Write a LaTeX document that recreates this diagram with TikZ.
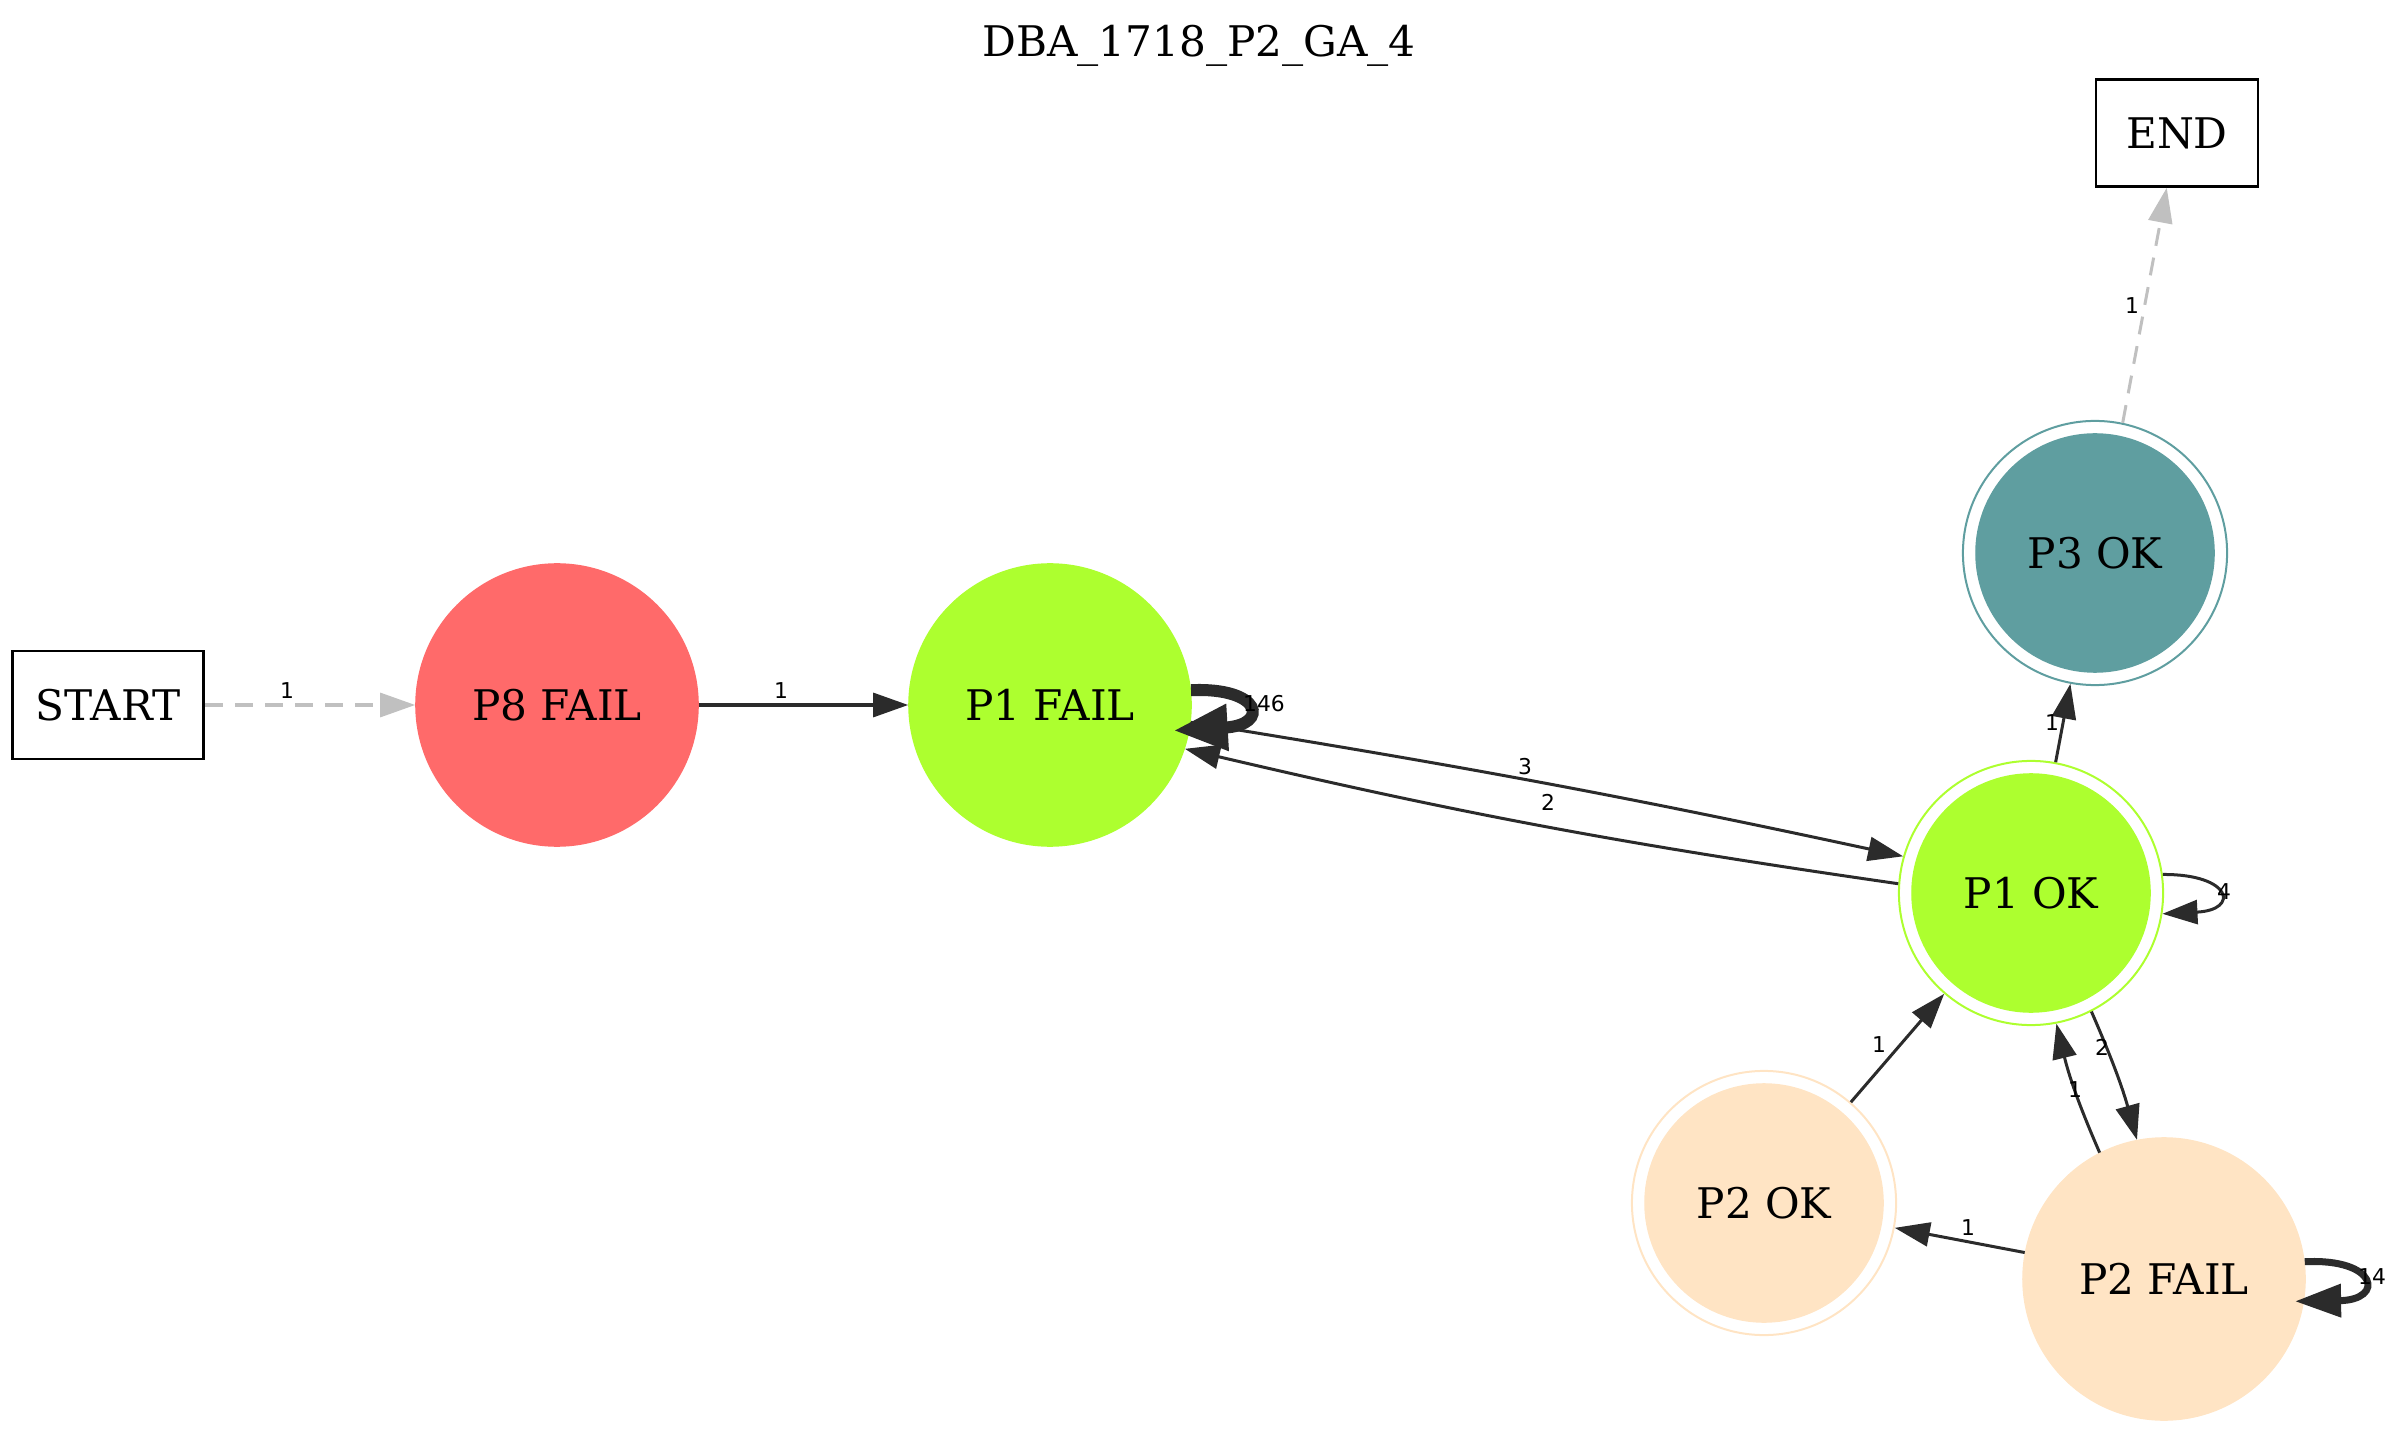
\documentclass[tikz,border=0pt]{standalone}
\usepackage{fontspec}
\setmainfont{DejaVu Serif}
\newfontfamily\lblfont{DejaVu Sans}
\usetikzlibrary{arrows.meta}
\definecolor{edgec}{HTML}{2B2B2B}
\definecolor{dashc}{HTML}{C0C0C0}
\definecolor{cRed}{HTML}{FF6A6A}
\definecolor{cGreen}{HTML}{ADFF2F}
\definecolor{cTeal}{HTML}{5F9EA0}
\definecolor{cBisque}{HTML}{FFE4C4}
\tikzset{
  nodetext/.style={font=\fontsize{12}{14}\selectfont},
  state/.style={circle, nodetext, inner sep=0pt, minimum size=2.82cm, fill=#1, draw=#1},
  outerring/.style={circle, inner sep=0pt, minimum size=2.64cm, draw=#1, line width=0.02cm},
  innerdisc/.style={circle, nodetext, inner sep=0pt, minimum size=2.38cm, fill=#1, draw=#1},
  termbox/.style={rectangle, nodetext, draw=black, line width=0.025cm, inner sep=0pt},
  lbl/.style={font=\lblfont\fontsize{6.2}{7}\selectfont, inner sep=0pt},
  edge/.style={draw=edgec, line width=0.03cm, -{Triangle[length=0.35cm,width=0.24cm]}},
  dashedge/.style={draw=dashc, line width=0.03cm, dash pattern=on 0.18cm off 0.12cm,
    -{Triangle[length=0.35cm,width=0.24cm]}},
  loopbig/.style={draw=edgec, line width=0.12cm, -{Triangle[length=0.54cm,width=0.44cm]}},
  loopmid/.style={draw=edgec, line width=0.07cm, -{Triangle[length=0.46cm,width=0.32cm]}},
}
\begin{document}
\begin{tikzpicture}[x=0.01cm, y=-0.01cm]
\useasboundingbox (0,0) rectangle (2400,1431);

% title
\node[nodetext, anchor=base, inner sep=0pt] (title) at (1199,57) {DBA\_1718\_P2\_GA\_4};

% terminal boxes
\node[termbox, minimum width=1.91cm, minimum height=1.08cm] (start) at (108,705) {START};
\node[termbox, minimum width=1.62cm, minimum height=1.07cm] (end) at (2177,133) {END};

% plain states
\node[state=cRed] (p8f) at (557,705) {P8 FAIL};
\node[state=cGreen] (p1f) at (1050,705) {P1 FAIL};
\node[state=cBisque] (p2f) at (2164,1279) {P2 FAIL};

% accepting states (double circles)
\node[outerring=cTeal] (p3ok) at (2095,553) {};
\node[innerdisc=cTeal] (p3ok-in) at (2095,553) {P3 OK};
\node[outerring=cGreen] (p1ok) at (2031,893) {};
\node[innerdisc=cGreen] (p1ok-in) at (2031,893) {P1 OK};
\node[outerring=cBisque] (p2ok) at (1764,1203) {};
\node[innerdisc=cBisque] (p2ok-in) at (1764,1203) {P2 OK};

% transitions
\draw[dashedge] (start.east) -- (p8f.west);
\node[lbl] (l-start) at (287,691) {1};

\draw[edge] (p8f.east) -- (p1f.west);
\node[lbl] (l-p8) at (781,691) {1};

\draw[loopbig, shorten >=-0.16cm] (p1f.6.5) .. controls (1262,687) and (1270,725) .. (p1f.-10);
\node[lbl] (l-p1floop) at (1264,704) {146};

\draw[edge] (p1f.-7) to[bend left=1.5] (p1ok.164);
\node[lbl] (l-p1f-p1ok) at (1525,767) {3};

\draw[edge] (p1ok.176) to[bend left=2.5] (p1f.-18);
\node[lbl] (l-p1ok-p1f) at (1548,802) {2};

\draw[edge] (p1ok) -- (p3ok);
\node[lbl] (l-p1ok-p3ok) at (2052,723) {1};

\draw[dashedge] (p3ok.78.7) -- (end);
\node[lbl] (l-p3ok-end) at (2132,306) {1};

\draw[edge] (p1ok.8) .. controls (2232,874) and (2240,910) .. (p1ok.-9);
\node[lbl] (l-p1okloop) at (2224,892) {4};

\draw[edge] (p1ok.-63) to[bend left=4] (p2f.101);
\node[lbl] (l-p1ok-p2f) at (2102,1047) {2};

\draw[edge] (p2f.117) to[bend left=5] (p1ok.-79);
\node[lbl] (l-p2f-p1ok) at (2075,1090) {1};

\draw[edge] (p2ok) -- (p1ok);
\node[lbl] (l-p2ok-p1ok) at (1879,1045) {1};

\draw[edge] (p2f) -- (p2ok);
\node[lbl] (l-p2f-p2ok) at (1968,1228) {1};

\draw[loopmid, shorten >=-0.09cm] (p2f.7.7) .. controls (2378,1258) and (2385,1300) .. (p2f.-9.6);
\node[lbl] (l-p2floop) at (2372,1277) {14};
\end{tikzpicture}
\end{document}
